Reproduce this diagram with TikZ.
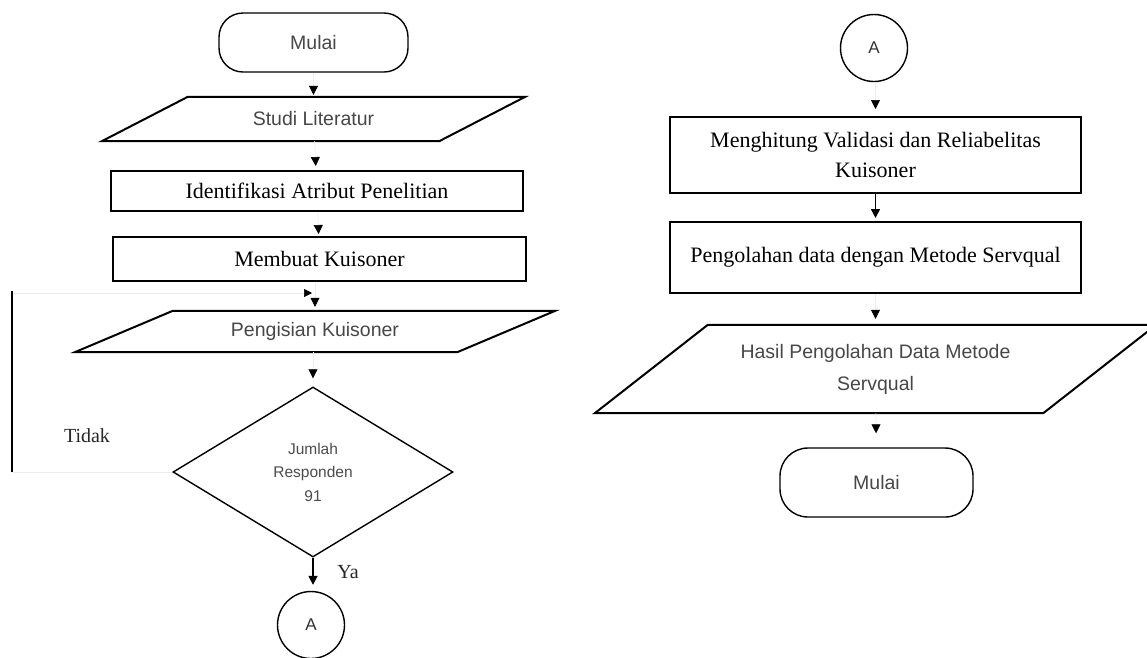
\documentclass[tikz,border=0pt]{standalone}
\usepackage{fontspec}
\setmainfont{Liberation Serif}
\setsansfont{Liberation Sans}
\usetikzlibrary{arrows.meta,calc,shapes.geometric}
\newcommand\parashape[2]{\draw[outline] ($(#1.north west)+(#2,0)$) -- ($(#1.north east)+(#2,0)$) -- ($(#1.south east)+(-#2,0)$) -- ($(#1.south west)+(-#2,0)$) -- cycle;}
\begin{document}
\begin{tikzpicture}[x=1pt,y=-1pt,
  outline/.style={draw=black, line width=2pt},
  thinline/.style={draw=black, line width=1.4pt},
  serifbox/.style={outline, rectangle, font=\fontsize{22}{30}\selectfont, align=center, inner sep=0pt},
  sanstext/.style={font=\sffamily\fontsize{19.5}{32}\selectfont, text=black!72, align=center, inner sep=0pt},
  term/.style={thinline, rectangle, rounded corners=24pt, sanstext},
  conn/.style={circle, thinline, font=\sffamily\fontsize{17}{20}\selectfont, text=black!80, inner sep=0pt, minimum size=67pt},
  decision/.style={diamond, thinline, font=\sffamily\fontsize{15.5}{23.5}\selectfont, text=black!70, align=center, inner sep=0pt},
  lbl/.style={font=\fontsize{20}{24}\selectfont, text=black!85, inner sep=0pt},
  flow/.style={draw=black!7, line width=0.6pt, -{Triangle[length=9pt,width=9pt,black]}},
  flowvis/.style={draw=black, line width=1.6pt, -{Triangle[length=9pt,width=9pt,black]}},
]
\useasboundingbox (0,0) rectangle (1147,657);
\fill[white] (0,0) rectangle (1147,657);

% ---- left column ----
\node[term, minimum width=189pt, minimum height=59pt] (start) at (313.5,42.5) {Mulai};
\node[sanstext, minimum width=337pt, minimum height=44pt] (lit) at (313.5,119) {Studi Literatur};
\parashape{lit}{43}
\node[serifbox, minimum width=412pt, minimum height=40pt] (ident) at (317,191) {Identifikasi Atribut Penelitian};
\node[serifbox, minimum width=413pt, minimum height=44pt] (kuis) at (319.5,259) {Membuat Kuisoner};
\node[sanstext, minimum width=382pt, minimum height=41pt] (isi) at (315,331.5) {Pengisian Kuisoner};
\parashape{isi}{49}
\node[decision, minimum width=280pt, minimum height=170pt] (dec) at (313,472) {Jumlah\\Responden\\91};
\node[conn] (a1) at (311,625) {A};

\node[lbl] (tidak) at (87,436) {Tidak};
\node[lbl] (ya) at (348,572) {Ya};

\coordinate (loopB) at (12,472);
\coordinate (loopT) at (12,293);
\coordinate (loopE) at (312,293);

\draw[flow, shorten >=2pt] (start) -- (lit);
\draw[flow, shorten >=4pt] (lit) -- (ident);
\draw[flow, shorten >=2pt] (ident) -- (kuis);
\draw[flow, shorten >=4pt] (kuis.south -| isi.north) -- (isi.north);
\draw[flow, shorten >=8pt] (isi.south -| dec.north) -- (dec.north);
\draw[flowvis, shorten >=6pt] (dec.south) -- (a1.north -| dec.south);
\draw[draw=black!7, line width=0.6pt, -{Triangle[length=8pt,width=8pt,black]}] (dec.west) -- (loopB) -- (loopT) -- (loopE);
\draw[draw=black, line width=1.8pt] (loopB) -- ([yshift=2pt]loopT);

% ---- right column ----
\node[conn] (a2) at (874,48) {A};
\node[serifbox, minimum width=411pt, minimum height=76pt] (hitung) at (875.5,155) {Menghitung Validasi dan Reliabelitas\\Kuisoner};
\node[serifbox, minimum width=411pt, minimum height=71pt] (olah) at (875.5,257.5) {Pengolahan data dengan Metode Servqual};
\node[sanstext, minimum width=448pt, minimum height=88pt] (hasil) at (875.5,369) {Hasil Pengolahan Data Metode\\Servqual};
\parashape{hasil}{56.5}
\node[term, minimum width=193pt, minimum height=69pt, rounded corners=28pt] (end) at (876.5,482.5) {Mulai};

\draw[flow, shorten >=7pt] (a2.south -| hitung.north) -- (hitung.north);
\draw[flowvis, shorten >=3pt] (hitung) -- (olah);
\draw[flow, shorten >=6pt] (olah) -- (hasil);
\draw[flow, shorten >=14pt] (hasil) -- (end);
\end{tikzpicture}
\end{document}
